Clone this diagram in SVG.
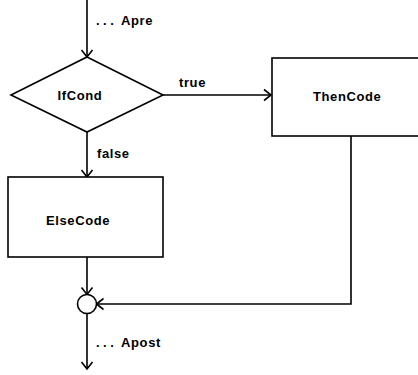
<svg xmlns="http://www.w3.org/2000/svg" width="418" height="375" viewBox="0 0 418 375">
<style>
.shape{fill:#fff;stroke:#000;stroke-width:1.6}
.edge{fill:none;stroke:#000;stroke-width:1.6}
text{font-family:"Liberation Sans",Arial,sans-serif;font-size:13px;font-weight:bold;letter-spacing:0.6px;fill:#000}
</style>
<defs>
<marker id="arr" markerUnits="userSpaceOnUse" markerWidth="16" markerHeight="16" viewBox="-9 -8 10 16" refX="0" refY="0" orient="auto">
<path d="M-7,-5.5 L0,0 L-7,5.5" fill="none" stroke="#000" stroke-width="1.6"/>
</marker>
</defs>
<g id="connectors">
<path class="edge" d="M87,0 V57" marker-end="url(#arr)"/>
<path class="edge" d="M163,95 H271" marker-end="url(#arr)"/>
<path class="edge" d="M87,132 V177" marker-end="url(#arr)"/>
<path class="edge" d="M87,257 V294.5" marker-end="url(#arr)"/>
<path class="edge" d="M351,136 V304 H96.5" marker-end="url(#arr)"/>
<path class="edge" d="M87,313.5 V369" marker-end="url(#arr)"/>
<text x="96" y="25"><tspan letter-spacing="3.5px">...</tspan> Apre</text>
<text x="179" y="87">true</text>
<text x="97" y="158">false</text>
<text x="96" y="347"><tspan letter-spacing="3.5px">...</tspan> Apost</text>
</g>
<g id="IfCond">
<polygon class="shape" points="87,57 163,95 87,132 11,95"/>
<text x="80" y="100" text-anchor="middle">IfCond</text>
</g>
<g id="ThenCode">
<rect class="shape" x="272" y="58" width="160" height="78"/>
<text x="313" y="100.5">ThenCode</text>
</g>
<g id="ElseCode">
<rect class="shape" x="8" y="177" width="155" height="80"/>
<text x="46" y="225">ElseCode</text>
</g>
<g id="join">
<circle class="shape" cx="87" cy="304" r="9.5"/>
</g>
</svg>
